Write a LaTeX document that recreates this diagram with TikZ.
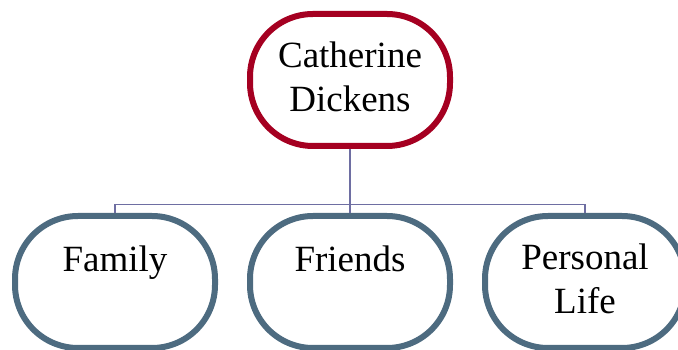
\documentclass[tikz,border=0pt]{standalone}
\usepackage{fontspec}
\setmainfont{Liberation Serif}
\definecolor{rootred}{HTML}{A50021}
\definecolor{leafblue}{HTML}{4D6B80}
\definecolor{linkgray}{HTML}{6E6EA2}
\tikzset{
  boxbase/.style={draw, line width=6pt, rounded corners=63pt, fill=white,
    minimum width=200pt, minimum height=132pt, inner sep=0pt},
  rootbox/.style={boxbase, draw=rootred},
  leafbox/.style={boxbase, draw=leafblue},
  lbl/.style={anchor=base, inner sep=0pt, font=\fontsize{37}{44}\selectfont},
  conn/.style={draw=linkgray, line width=1.4pt}
}
\begin{document}
\begin{tikzpicture}[x=1pt, y=1pt]
  \useasboundingbox (0,0) rectangle (678,350);
  % boxes
  \node[rootbox] (root) at (350,270) {};
  \node[leafbox] (fam) at (115,68) {};
  \node[leafbox] (fri) at (350,68) {};
  \node[leafbox] (per) at (585,68) {};
  % connectors
  \coordinate (bus) at (350,145.5);
  \draw[conn] (root.south) -- (bus);
  \draw[conn] (bus) -| (fam.north);
  \draw[conn] (bus) -| (per.north);
  \draw[conn] (bus) -- (fri.north);
  % labels
  \node[lbl] (t1) at (350,282) {Catherine};
  \node[lbl] (t2) at (350,238) {Dickens};
  \node[lbl] (t3) at (115,78) {Family};
  \node[lbl] (t4) at (350,78) {Friends};
  \node[lbl] (t5) at (585,80) {Personal};
  \node[lbl] (t6) at (585,36) {Life};
\end{tikzpicture}
\end{document}
